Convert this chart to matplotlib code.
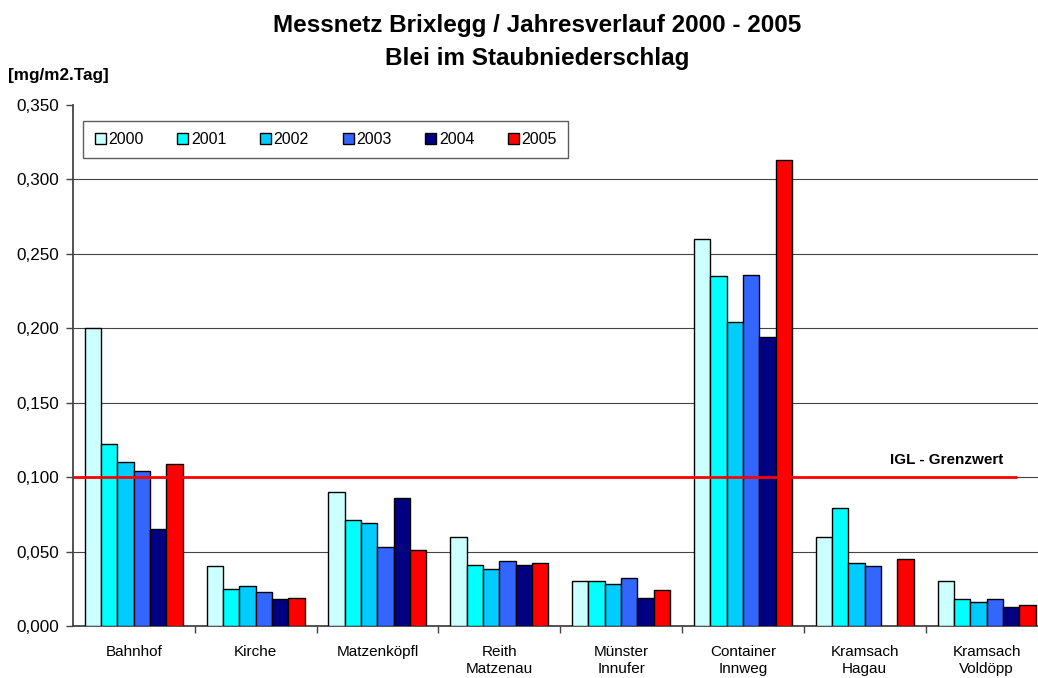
import matplotlib
matplotlib.use("Agg")
import matplotlib.pyplot as plt
import numpy as np
from matplotlib.ticker import FuncFormatter, FixedLocator

plt.rcParams['font.family'] = ['Liberation Sans', 'DejaVu Sans']

categories = ["Bahnhof", "Kirche", "Matzenköpfl", "Reith\nMatzenau", "Münster\nInnufer",
              "Container\nInnweg", "Kramsach\nHagau", "Kramsach\nVoldöpp"]
years = ["2000", "2001", "2002", "2003", "2004", "2005"]
v2000 = [0.200, 0.040, 0.090, 0.060, 0.030, 0.260, 0.060, 0.030]
v2001 = [0.122, 0.025, 0.071, 0.041, 0.030, 0.235, 0.079, 0.018]
v2002 = [0.110, 0.027, 0.069, 0.038, 0.028, 0.204, 0.042, 0.016]
v2003 = [0.104, 0.023, 0.053, 0.044, 0.032, 0.236, 0.040, 0.018]
v2004 = [0.065, 0.018, 0.086, 0.041, 0.019, 0.194, np.nan, 0.013]
v2005 = [0.109, 0.019, 0.051, 0.042, 0.024, 0.313, 0.045, 0.014]
series = [v2000, v2001, v2002, v2003, v2004, v2005]
colors = ["#CCFFFF", "#00FFFF", "#00CCFF", "#3366FF", "#000080", "#FF0000"]
limit_value = 0.100
limit_label = "IGL - Grenzwert"
yticks = [0.0, 0.05, 0.10, 0.15, 0.20, 0.25, 0.30, 0.35]

W, H = 1038, 678
fig = plt.figure(figsize=(W / 100, H / 100), dpi=100)
x0, x1 = 72.9, 1047.5
y0, y1 = 626, 105
ax = fig.add_axes([x0 / W, 1 - y0 / H, (x1 - x0) / W, (y0 - y1) / H])

x = np.arange(len(categories))
bw = 0.134
for i, (vals, c, yr) in enumerate(zip(series, colors, years)):
    ax.bar(x + (i - 2.5) * bw, vals, width=bw, color=c, edgecolor="black",
           linewidth=1.0, label=yr, zorder=3)

ax.set_xlim(-0.5, len(categories) - 0.5)
ax.set_ylim(0, 0.35)

ax.set_yticks(yticks)
ax.yaxis.set_major_formatter(FuncFormatter(lambda v, p: f"{v:.3f}".replace(".", ",")))
ax.tick_params(axis="y", length=5, width=1, color="#444444", pad=5, labelsize=12.3)
ax.yaxis.grid(True, color="#444444", linewidth=0.8, zorder=0)
ax.set_axisbelow(True)
gl = ax.get_ygridlines()
gl[0].set_visible(False)
gl[-1].set_visible(False)

ax.set_xticks(x)
ax.set_xticklabels(categories, fontsize=11, linespacing=1.2)
ax.tick_params(axis="x", which="major", length=0, pad=14)
ax.xaxis.set_minor_locator(FixedLocator(x[:-1] + 0.5))
ax.tick_params(axis="x", which="minor", length=5, width=1, color="#444444", direction="out")

for s in ["top", "right"]:
    ax.spines[s].set_visible(False)
ax.spines["left"].set_color("#444444")
ax.spines["left"].set_linewidth(1.3)
ax.spines["bottom"].set_color("#444444")
ax.spines["bottom"].set_linewidth(1.3)

ax.hlines(limit_value, -0.5, 7.25, color="#FF0000", linewidth=2, zorder=4)
ax.annotate(limit_label, xy=(7.14, limit_value), xytext=(0, 7), textcoords="offset points",
            ha="right", va="bottom", fontsize=11, fontweight="bold")

leg = ax.legend(loc="upper left", bbox_to_anchor=(0.0107, 0.970, 0.4975, 0.0), mode="expand",
                ncol=6, fontsize=11.5, handlelength=0.7, handleheight=0.7, handletextpad=0.15,
                borderpad=0.7, borderaxespad=0, frameon=True, fancybox=False)
leg.get_frame().set_edgecolor("#333333")
leg.get_frame().set_linewidth(1.0)
for h in leg.legend_handles:
    h.set_linewidth(1.0)

fig.text(537 / W, 1 - 32.3 / H, "Messnetz Brixlegg / Jahresverlauf 2000 - 2005",
         ha="center", va="baseline", fontsize=17.5, fontweight="bold")
fig.text(537 / W, 1 - 65 / H, "Blei im Staubniederschlag",
         ha="center", va="baseline", fontsize=17.5, fontweight="bold")
fig.text(8 / W, 1 - 80 / H, "[mg/m2.Tag]", ha="left", va="baseline",
         fontsize=12.3, fontweight="bold")

fig.savefig("out.png", dpi=100)
